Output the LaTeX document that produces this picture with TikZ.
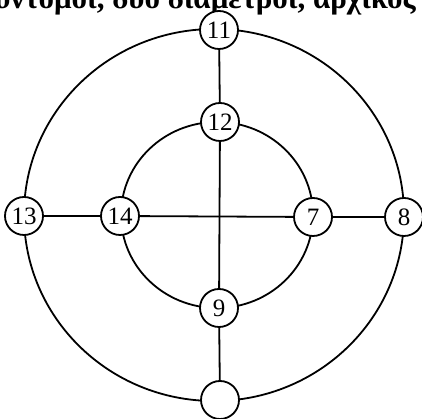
\documentclass[tikz,border=0pt]{standalone}
\usepackage{fontspec}
\setmainfont{Liberation Serif}
\begin{document}
\begin{tikzpicture}[x=1pt,y=1pt,
  vtx/.style={circle,draw,line width=1.8pt,fill=white,minimum size=38pt,inner sep=0pt,font=\fontsize{25}{27}\selectfont},
  edge/.style={line width=1.8pt}]
\useasboundingbox (0,0) rectangle (422,419);
\node[anchor=base east,font=\bfseries\fontsize{31}{35}\selectfont,inner sep=0pt] (title) at (416,410) {σύντομοι, δύο διάμετροι, αρχικός};
\coordinate (co) at (214,204);
\coordinate (ci) at (217,204);
\draw[edge] (co) ellipse[x radius=190,y radius=186];
\draw[edge] (ci) ellipse[x radius=96,y radius=93];
\node[vtx] (n11) at (219,389) {11};
\node[vtx] (n12) at (220,297) {12};
\node[vtx] (n9) at (219,111) {9};
\node[vtx] (nb) at (220,19) {};
\node[vtx] (n13) at (24,203) {13};
\node[vtx] (n14) at (120,203) {14};
\node[vtx] (n7) at (313,202) {7};
\node[vtx] (n8) at (404,202) {8};
\draw[edge] (n13) -- (n14) (n14) -- (n7) (n7) -- (n8);
\draw[edge] (n11) -- (n12) (n12) -- (n9) (n9) -- (nb);
\end{tikzpicture}
\end{document}
